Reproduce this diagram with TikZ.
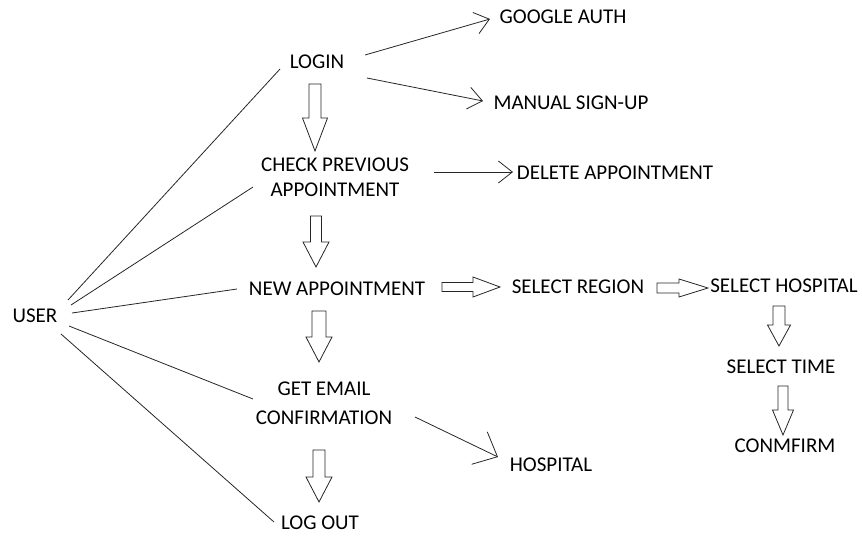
\documentclass[tikz,border=0pt]{standalone}
\usepackage{fontspec}
\setmainfont{Carlito}
\usetikzlibrary{calc,arrows.meta}
\tikzset{
  lbl/.style={font=\fontsize{21}{25}\selectfont, inner sep=0pt, align=center, text=black},
  conn/.style={line width=0.8pt, draw=black!85},
  arr/.style={conn, -{Straight Barb[length=14pt,width=22pt,line width=0.8pt]}},
  bigarr/.style={conn, -{Straight Barb[length=20pt,width=36pt,line width=0.8pt]}},
  blk/.style={draw=black!85, line width=0.8pt, fill=white, line join=miter},
}
% #1 shaft half width, #2 head half width, #3 head length, #4 start, #5 end
\newcommand\blockarr[5]{%
  \draw[blk] ($(#4)!#1!90:(#5)$) -- ($(#5)!#3!(#4)!#1!90:(#5)$)
    -- ($(#5)!#3!(#4)!#2!90:(#5)$) -- (#5)
    -- ($(#5)!#3!(#4)!#2!-90:(#5)$) -- ($(#5)!#3!(#4)!#1!-90:(#5)$)
    -- ($(#4)!#1!-90:(#5)$) -- cycle;}
\begin{document}
\begin{tikzpicture}[x=1pt,y=-1pt]
\useasboundingbox (0,0) rectangle (862,536);
% nodes
\node[lbl] (user)    at (35,316)  {USER};
\node[lbl] (login)   at (317,62)  {LOGIN};
\node[lbl] (gauth)   at (563,17)  {GOOGLE AUTH};
\node[lbl] (manual)  at (571,103) {MANUAL SIGN-UP};
\node[lbl] (check)   at (335,177) {CHECK PREVIOUS\\APPOINTMENT};
\node[lbl] (delete)  at (615,173) {DELETE APPOINTMENT};
\node[lbl] (new)     at (337,289) {NEW APPOINTMENT};
\node[lbl] (region)  at (578,287) {SELECT REGION};
\node[lbl] (shosp)   at (784,286) {SELECT HOSPITAL};
\node[lbl] (stime)   at (781,367) {SELECT TIME};
\node[lbl] (confirm) at (785,446) {CONMFIRM};
\node[lbl] (email)   at (324,403) {GET EMAIL\\[4pt]CONFIRMATION};
\node[lbl] (hosp)    at (551,465) {HOSPITAL};
\node[lbl] (logout)  at (320,523) {LOG OUT};
% connector end points
\coordinate (u1a) at (68,300);  \coordinate (u1b) at (280,69);
\coordinate (u2a) at (71,305);  \coordinate (u2b) at (253,187);
\coordinate (u3a) at (72,313);  \coordinate (u3b) at (237,289);
\coordinate (u4a) at (69,326);  \coordinate (u4b) at (253,399);
\coordinate (u5a) at (61,334);  \coordinate (u5b) at (274,522);
\coordinate (g1) at (365,55);   \coordinate (g2) at (490,19);
\coordinate (m1) at (367,78);   \coordinate (m2) at (483,101);
\coordinate (d1) at (434,172);  \coordinate (d2) at (513,172);
\coordinate (h1) at (415,417);  \coordinate (h2) at (498,457);
% user lines
\draw[conn] (u1a) -- (u1b);
\draw[conn] (u2a) -- (u2b);
\draw[conn] (u3a) -- (u3b);
\draw[conn] (u4a) -- (u4b);
\draw[conn] (u5a) -- (u5b);
% thin arrows
\draw[arr] (g1) -- (g2);
\draw[arr] (m1) -- (m2);
\draw[arr] (d1) -- (d2);
\draw[bigarr] (h1) -- (h2);
% block arrows
\coordinate (b1a) at (315,84);  \coordinate (b1b) at (315,151);
\coordinate (b2a) at (316,216); \coordinate (b2b) at (316,267);
\coordinate (b3a) at (319,311); \coordinate (b3b) at (319,362);
\coordinate (b4a) at (319,450); \coordinate (b4b) at (319,502);
\coordinate (b5a) at (442,287); \coordinate (b5b) at (500,287);
\coordinate (b6a) at (657,288); \coordinate (b6b) at (708,288);
\coordinate (b7a) at (779,306); \coordinate (b7b) at (779,346);
\coordinate (b8a) at (783,386); \coordinate (b8b) at (783,435);
\blockarr{6pt}{12.5pt}{33pt}{b1a}{b1b}
\blockarr{5.5pt}{13pt}{25pt}{b2a}{b2b}
\blockarr{7pt}{13pt}{25pt}{b3a}{b3b}
\blockarr{6pt}{13pt}{25pt}{b4a}{b4b}
\blockarr{4.5pt}{10pt}{27pt}{b5a}{b5b}
\blockarr{5pt}{9pt}{29pt}{b6a}{b6b}
\blockarr{6pt}{11.5pt}{21pt}{b7a}{b7b}
\blockarr{5pt}{10.5pt}{25pt}{b8a}{b8b}
\end{tikzpicture}
\end{document}
